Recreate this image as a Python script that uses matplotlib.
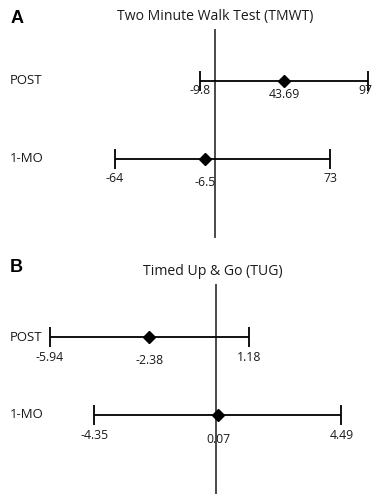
import matplotlib.pyplot as plt

plt.rcParams['font.family'] = ['Open Sans', 'DejaVu Sans']

rows = ['POST', '1-MO']

# Two Minute Walk Test
tmwt_mean = [43.69, -6.5]
tmwt_low = [-9.8, -64]
tmwt_high = [97, 73]

# Timed Up & Go
tug_mean = [-2.38, 0.07]
tug_low = [-5.94, -4.35]
tug_high = [1.18, 4.49]

fig = plt.figure(figsize=(3.73, 4.94), dpi=100)
axA = fig.add_axes([0, 0.5, 1, 0.5])
axB = fig.add_axes([0, 0, 1, 0.5])
labels = []


def forest(ax, mean, low, high, letter, title, title_x, title_y, letter_y,
           vline, offsets):
    y = list(range(len(rows)))
    err = [[m - l for m, l in zip(mean, low)], [h - m for m, h in zip(mean, high)]]
    ax.axvline(0, ymin=vline[0], ymax=vline[1], color='#4a4a4a', lw=1.4, zorder=1)
    ax.errorbar(mean, y, xerr=err, fmt='D', color='black', ms=6.4, lw=1.3,
                capsize=7.5, capthick=1.3, zorder=3)
    for i in y:
        ob, om = offsets[i]
        for v in (low[i], high[i]):
            labels.append(ax.annotate(str(v), xy=(v, i), xytext=(0, -ob),
                                      textcoords='offset points', ha='center',
                                      va='center', fontsize=8.8, color='#1a1a1a'))
        ax.annotate(str(mean[i]), xy=(mean[i], i), xytext=(0, -om),
                    textcoords='offset points', ha='center', va='center',
                    fontsize=8.8, color='#1a1a1a')
        ax.text(0.027, i, rows[i], transform=ax.get_yaxis_transform(),
                ha='left', va='center', fontsize=9.5, color='#1a1a1a')
    ax.text(title_x, title_y, title, transform=ax.transAxes, ha='center',
            va='center', fontsize=10.1, color='#1a1a1a')
    ax.text(0.027, letter_y, letter, transform=ax.transAxes, ha='left',
            va='center', fontsize=13, fontweight='bold', family='Liberation Sans')
    ax.axis('off')


forest(axA, tmwt_mean, tmwt_low, tmwt_high, 'A', 'Two Minute Walk Test (TMWT)',
       0.576, 0.935, 0.927, (0.04, 0.879), [(7.0, 10.0), (14.4, 16.6)])
axA.set_xlim(-136.9, 100.2)
axA.set_ylim(2.128, -1.038)

forest(axB, tug_mean, tug_low, tug_high, 'B', 'Timed Up & Go (TUG)',
       0.571, 0.899, 0.915, (0.0, 0.846), [(14.4, 16.6), (15.0, 17.3)])
axB.set_xlim(-7.728, 5.617)
axB.set_ylim(2.013, -1.154)

# nudge any value label that runs past the right edge back inside
fig.canvas.draw()
r = fig.canvas.get_renderer()
for t in labels:
    bb = t.get_window_extent(r)
    over = bb.x1 - fig.bbox.x1 + 1
    if over > 0:
        x, yo = t.xyann
        t.xyann = (x - over * 72 / fig.dpi, yo)

fig.savefig('out.png', dpi=100)
